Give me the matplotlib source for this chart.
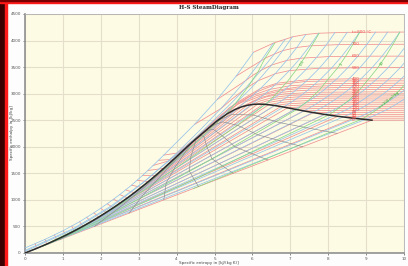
import matplotlib
matplotlib.use("Agg")
import matplotlib.pyplot as plt
from matplotlib.patches import Rectangle

# saturation table, every 20 degC up to the critical point
sat_t = [0.01, 20, 40, 60, 80, 100, 120, 140, 160, 180, 200, 220, 240, 260, 280, 300, 320, 340, 360, 373.95]
sat_sf = [0.0, 0.2965, 0.5724, 0.8313, 1.0756, 1.3072, 1.5279, 1.7392, 1.9426, 2.1392, 2.3305, 2.5177,
          2.7020, 2.8849, 3.0685, 3.2552, 3.4494, 3.6601, 3.9167, 4.4070]
sat_hf = [0.0, 83.9, 167.5, 251.2, 335.0, 419.2, 503.8, 589.2, 675.5, 763.1, 852.3, 943.6,
          1037.6, 1135.0, 1236.9, 1344.8, 1461.8, 1593.8, 1761.0, 2084.3]
sat_sg = [9.1555, 8.6661, 8.2556, 7.9082, 7.6111, 7.3541, 7.1291, 6.9293, 6.7491, 6.5850, 6.4302, 6.2840,
          6.1423, 6.0019, 5.8604, 5.7059, 5.5372, 5.3359, 5.0536, 4.4070]
sat_hg = [2500.9, 2537.4, 2573.5, 2608.8, 2643.0, 2675.6, 2706.0, 2733.5, 2757.4, 2777.2, 2792.0, 2801.1,
          2803.0, 2796.6, 2779.9, 2749.6, 2700.6, 2622.0, 2481.0, 2084.3]

# compressed liquid end of each subcritical isotherm (1000 bar)
liq_s = [0.00, 0.27, 0.53, 0.78, 1.01, 1.23, 1.44, 1.63, 1.82, 2.00, 2.17, 2.34, 2.50, 2.66, 2.81, 2.96, 3.10, 3.24, 3.38]
liq_h = [95, 176, 257, 340, 422, 505, 589, 672, 757, 841, 927, 1013, 1100, 1188, 1277, 1368, 1460, 1553, 1648]

# superheated part of the subcritical isotherms (from the dew line to the right)
iso_s = [
    [9.156, 10.0],
    [8.666, 10.0],
    [8.256, 10.0],
    [7.908, 10.0],
    [7.611, 8.30, 10.0],
    [7.354, 7.695, 8.45, 10.0],
    [7.129, 7.47, 8.10, 10.0],
    [6.929, 7.23, 7.90, 10.0],
    [6.749, 7.05, 7.60, 8.40, 10.0],
    [6.585, 6.90, 7.40, 8.20, 10.0],
    [6.430, 6.695, 7.061, 7.508, 7.835, 8.905, 10.0],
    [6.284, 6.50, 6.86, 7.30, 8.00, 10.0],
    [6.142, 6.35, 6.70, 7.15, 7.90, 10.0],
    [6.002, 6.20, 6.55, 7.00, 7.80, 10.0],
    [5.860, 6.05, 6.40, 6.85, 7.70, 10.0],
    [5.706, 6.210, 6.768, 7.124, 7.461, 8.217, 10.0],
    [5.537, 5.80, 6.33, 6.90, 7.40, 8.20, 10.0],
    [5.336, 5.60, 6.10, 6.60, 7.20, 8.10, 10.0],
    [5.054, 5.40, 5.90, 6.45, 7.00, 8.00, 10.0],
]
iso_h = [
    [2500.9, 2501.5],
    [2537.4, 2538.2],
    [2573.5, 2574.9],
    [2608.8, 2611.1],
    [2643.0, 2648.0, 2649.3],
    [2675.6, 2682.4, 2687.0, 2687.5],
    [2706.0, 2716.6, 2723.5, 2726.0],
    [2733.5, 2748.6, 2760.0, 2764.0],
    [2757.4, 2777.0, 2794.0, 2800.5, 2802.5],
    [2777.2, 2806.0, 2828.0, 2838.0, 2841.0],
    [2792.0, 2828.3, 2855.8, 2870.7, 2875.5, 2879.6, 2880.0],
    [2801.1, 2845.0, 2885.0, 2906.0, 2916.0, 2919.0],
    [2803.0, 2858.0, 2910.0, 2938.0, 2953.0, 2958.0],
    [2796.6, 2862.0, 2930.0, 2968.0, 2990.0, 2997.0],
    [2779.9, 2860.0, 2947.0, 2996.0, 3027.0, 3037.0],
    [2749.6, 2925.7, 3024.2, 3051.6, 3064.6, 3074.5, 3077.0],
    [2700.6, 2840.0, 2987.0, 3075.0, 3101.0, 3114.0, 3117.0],
    [2622.0, 2800.0, 2960.0, 3060.0, 3125.0, 3152.0, 3157.0],
    [2481.0, 2740.0, 2940.0, 3080.0, 3150.0, 3190.0, 3198.0],
]

# supercritical isotherms
sc_t = [380, 400, 500, 600, 700, 800]
sc_s = [
    [3.52, 3.82, 4.05, 4.70, 5.30, 6.11, 6.57, 7.43, 8.50, 10.0],
    [3.66, 4.00, 4.11, 4.476, 5.14, 5.556, 6.214, 6.648, 7.467, 8.545, 10.0],
    [4.47, 5.17, 5.47, 5.796, 6.144, 6.599, 6.978, 7.765, 8.836, 10.0],
    [5.07, 5.82, 6.011, 6.235, 6.507, 6.905, 7.260, 8.031, 9.099, 10.0],
    [5.57, 6.23, 6.375, 6.578, 6.800, 7.172, 7.514, 8.276, 9.342, 10.0],
    [6.03, 6.55, 6.666, 6.867, 7.055, 7.410, 7.746, 8.503, 9.568, 10.0],
]
sc_h = [
    [1745, 1760, 1880, 2280, 2650, 3032, 3160, 3232, 3240, 3241],
    [1843, 1880, 1931, 2153, 2578, 2818, 3098, 3197, 3265, 3279, 3280],
    [2420, 2720, 2903, 3085, 3241, 3375, 3435, 3479, 3489, 3490],
    [2890, 3245, 3346, 3443, 3539, 3626, 3667, 3699, 3706, 3706.5],
    [3330, 3620, 3681, 3745, 3810, 3870, 3900, 3924, 3929, 3930],
    [3780, 3950, 3979, 4024, 4070, 4115, 4138, 4155, 4159, 4160],
]

# isobars in bar
bar_p = [0.01, 0.02, 0.05, 0.1, 0.2, 0.5, 1, 2, 5, 10, 20, 50, 100, 200, 300, 500, 1000]
bar_s = [
    [0.106, 8.975, 9.237, 9.512, 9.752, 9.968, 10.164],
    [0.261, 8.723, 8.917, 9.192, 9.432, 9.648, 9.845, 10.026],
    [0.476, 8.394, 8.494, 8.769, 9.009, 9.225, 9.421, 9.603, 9.929, 10.22],
    [0.649, 8.149, 8.174, 8.449, 8.689, 8.905, 9.102, 9.283, 9.609, 9.900, 10.163],
    [0.832, 7.907, 8.127, 8.368, 8.584, 8.781, 8.962, 9.289, 9.580, 9.843, 10.086],
    [1.091, 7.593, 7.695, 7.941, 8.159, 8.356, 8.538, 8.866, 9.157, 9.420, 9.663, 9.889],
    [1.303, 7.359, 7.614, 7.835, 8.034, 8.217, 8.545, 8.836, 9.099, 9.342, 9.568],
    [1.530, 7.127, 7.280, 7.508, 7.710, 7.894, 8.224, 8.516, 8.780, 9.023, 9.249],
    [1.860, 6.821, 7.061, 7.272, 7.461, 7.796, 8.091, 8.357, 8.601, 8.827],
    [2.138, 6.585, 6.695, 6.927, 7.124, 7.467, 7.765, 8.031, 8.276, 8.503],
    [2.447, 6.339, 6.547, 6.768, 7.128, 7.432, 7.702, 7.949, 8.177],
    [2.921, 5.973, 6.210, 6.451, 6.648, 6.978, 7.260, 7.514, 7.746],
    [3.360, 5.616, 5.946, 6.214, 6.599, 6.905, 7.172, 7.410],
    [4.015, 4.927, 5.30, 5.556, 5.905, 6.144, 6.507, 6.800, 7.055],
    [0.0, 1.29, 2.28, 3.13, 3.60, 4.05, 4.476, 5.442, 5.796, 6.235, 6.578, 6.867],
    [0.0, 1.28, 2.26, 3.10, 3.50, 3.82, 4.00, 4.55, 5.17, 5.82, 6.23, 6.55],
    [0.00, 0.53, 1.01, 1.44, 1.82, 2.17, 2.50, 2.81, 3.10, 3.38, 3.66, 4.05, 4.47, 5.07, 5.57, 6.03],
]
bar_h = [
    [29.3, 2513.7, 2594, 2688, 2783, 2880, 2978],
    [73.4, 2532.9, 2593, 2688, 2783, 2880, 2978, 3077],
    [137.8, 2560.7, 2592.5, 2688, 2783, 2880, 2978, 3077, 3280, 3490],
    [191.8, 2583.9, 2592, 2687.5, 2783, 2879.6, 2977.5, 3076.7, 3280, 3489.7, 3706.3],
    [251.4, 2609.9, 2686.5, 2782, 2879, 2977, 3076, 3280, 3489.5, 3706, 3930],
    [340.5, 2645.9, 2682.4, 2780.2, 2877.7, 2976.2, 3075.8, 3279.3, 3489.3, 3706, 3929.6, 4159.5],
    [417.4, 2675.0, 2776.6, 2875.5, 2974.5, 3074.5, 3278.6, 3488.7, 3705.6, 3929.4, 4159.2],
    [504.7, 2706.3, 2769.1, 2870.7, 2971.2, 3072.1, 3277.0, 3487.7, 3704.8, 3928.8, 4158.7],
    [640.1, 2748.1, 2855.8, 2961.0, 3064.6, 3272.4, 3484.5, 3702.5, 3927.0, 4157.4],
    [762.5, 2777.1, 2828.3, 2943.1, 3051.6, 3264.5, 3479.1, 3698.6, 3924.1, 4155.2],
    [908.5, 2798.3, 2903.3, 3024.2, 3248.4, 3468.3, 3690.7, 3918.2, 4150.7],
    [1154.5, 2794.2, 2925.7, 3069.3, 3196.7, 3434.7, 3666.9, 3900.3, 4137.7],
    [1407.9, 2725.5, 2924.0, 3097.5, 3375.1, 3625.8, 3870.0, 4114.5],
    [1827.2, 2411.4, 2650, 2818.1, 3061.7, 3241.2, 3539.0, 3810.0, 4069.8],
    [30, 447, 868, 1330, 1620, 1880, 2153, 2821, 3085, 3443, 3745, 4024],
    [48, 462, 880, 1320, 1560, 1760, 1880, 2265, 2720, 3245, 3620, 3950],
    [95, 257, 422, 589, 757, 927, 1100, 1277, 1460, 1648, 1843, 2120, 2420, 2890, 3330, 3780],
]

# isochores in m3/kg
vol_v = [0.01, 0.1, 1, 10, 100]
vol_s = [
    [0.70, 1.34, 1.955, 2.618, 3.382, 4.294, 5.29, 5.556, 5.88, 6.15, 6.33, 6.59],
    [0.73, 1.669, 3.101, 5.545, 6.339, 6.49, 6.64, 6.925, 7.16, 7.37, 7.57, 7.76],
    [0.44, 0.96, 1.80, 2.99, 4.923, 7.17, 7.47, 7.77, 8.0, 8.25, 8.46, 8.65, 8.83],
    [0.444, 1.745, 4.51, 8.01, 8.20, 8.55, 8.835, 9.07, 9.31, 9.52, 9.71, 9.89],
    [4.44, 6.16, 8.38, 8.89, 9.05, 9.26, 9.61, 9.90, 10.15],
]
vol_h = [
    [210, 431, 680, 988, 1394, 1940, 2600, 2818, 3125, 3413, 3665, 3950],
    [229, 554, 1165, 2373, 2798, 2890, 3009, 3231, 3450, 3674, 3905, 4137],
    [124, 290, 561, 1011, 1768, 2701, 2869, 3071, 3275, 3487, 3704, 3927, 4157],
    [121, 508, 1399, 2598, 2687, 2879, 3078, 3279, 3490, 3706, 3930, 4160],
    [1213, 1714, 2373, 2521, 2592, 2688, 2880, 3077, 3280],
]

# lines of constant steam quality
qual_x = [0.1, 0.2, 0.3, 0.4, 0.5, 0.6, 0.7, 0.8, 0.9]
qual_s = [
    [0.916, 1.912, 2.740, 3.500, 3.828, 4.030, 4.407],
    [1.831, 2.517, 3.150, 3.745, 3.995, 4.144, 4.407],
    [2.747, 3.121, 3.560, 3.990, 4.163, 4.258, 4.407],
    [3.662, 3.726, 3.970, 4.236, 4.330, 4.372, 4.407],
    [4.578, 4.331, 4.380, 4.481, 4.498, 4.485, 4.407],
    [5.493, 4.936, 4.790, 4.726, 4.666, 4.599, 4.407],
    [6.409, 5.540, 5.200, 4.971, 4.833, 4.713, 4.407],
    [7.324, 6.145, 5.610, 5.216, 5.001, 4.826, 4.407],
    [8.240, 6.750, 6.020, 5.461, 5.168, 4.940, 4.407],
]
qual_h = [
    [250, 645, 1046, 1485, 1697, 1833, 2084],
    [500, 870, 1240, 1626, 1799, 1905, 2084],
    [750, 1096, 1434, 1766, 1902, 1977, 2084],
    [1000, 1322, 1628, 1907, 2005, 2049, 2084],
    [1250, 1547, 1822, 2047, 2108, 2121, 2084],
    [1501, 1773, 2016, 2188, 2211, 2193, 2084],
    [1751, 1999, 2210, 2328, 2313, 2265, 2084],
    [2001, 2224, 2404, 2469, 2416, 2337, 2084],
    [2251, 2450, 2598, 2609, 2519, 2409, 2084],
]

RED = "#f29090"
BLUE = "#96c4ea"
GREEN = "#88da88"
GRAY = "#8c8c8c"

fig = plt.figure(figsize=(4.08, 2.66), dpi=100, facecolor="#fdfdfd")
ax = fig.add_axes([25 / 408, 13 / 266, 379 / 408, 239 / 266])
ax.set_facecolor("#fdfbe4")

# frame of the window
fig.patches.append(Rectangle((0, 0), 5 / 408, 1, transform=fig.transFigure, color="#3a0000", zorder=0))
fig.patches.append(Rectangle((5 / 408, 0), 2 / 408, 1, transform=fig.transFigure, color="#ff1a1a", zorder=0))
fig.patches.append(Rectangle((0, 1 - 3 / 266), 1, 3 / 266, transform=fig.transFigure, color="#ff1a1a", zorder=0))
fig.patches.append(Rectangle((0, 1 - 1 / 266), 1, 1 / 266, transform=fig.transFigure, color="#7a0000", zorder=0))

lw = 0.55
# isotherms: compressed liquid + wet region + superheated
for i in range(len(iso_s)):
    xs = [liq_s[i], sat_sf[i]] + iso_s[i]
    ys = [liq_h[i], sat_hf[i]] + iso_h[i]
    ax.plot(xs, ys, color=RED, lw=lw, zorder=2)
for i in range(len(sc_t)):
    ax.plot(sc_s[i], sc_h[i], color=RED, lw=lw, zorder=2)

for i in range(len(bar_p)):
    ax.plot(bar_s[i], bar_h[i], color=BLUE, lw=lw, zorder=3)

for i in range(len(vol_v)):
    ax.plot(vol_s[i], vol_h[i], color=GREEN, lw=lw, zorder=3)

for i in range(len(qual_x)):
    ax.plot(qual_s[i], qual_h[i], color=GRAY, lw=0.45, zorder=4)

# saturation curve
ax.plot(sat_sf + sat_sg[::-1], sat_hf + sat_hg[::-1], color="#2b2b2b", lw=1.1, zorder=5)

# isotherm labels
lab_s = 8.63
for i in range(len(iso_s)):
    ax.text(lab_s, iso_h[i][-1], f"{sat_t[i]:.0f}", color="#f05050", fontsize=3, va="center", zorder=6)
for i in range(len(sc_t)):
    txt = f"t={sc_t[i]} °C" if sc_t[i] == 800 else f"{sc_t[i]}"
    ax.text(lab_s, sc_h[i][-1], txt, color="#f05050", fontsize=3, va="center", zorder=6)

# isochore labels
for i, (sv, hv) in enumerate([(7.31, 3578), (8.34, 3559), (9.42, 3578)]):
    ax.text(sv, hv, f"{vol_v[i + 1]:g}", color="#3cae3c", fontsize=2.8, rotation=60,
            ha="center", va="center", zorder=6)
ax.text(9.6, 2880, "v=100 m³/kg", color="#3cae3c", fontsize=2.6, rotation=38,
        ha="center", va="center", zorder=6)

ax.set_xlim(0, 10)
ax.set_ylim(0, 4500)
ax.set_xticks(range(0, 11))
ax.set_yticks(range(0, 4501, 500))
ax.grid(True, color="#e4dfca", lw=0.8, zorder=0)
ax.set_axisbelow(True)
ax.tick_params(labelsize=3, length=1.5, width=0.5, colors="#555555", pad=1.5)
for side in ["top", "right"]:
    ax.spines[side].set_color("#b0b0b0")
    ax.spines[side].set_linewidth(0.6)
for side in ["left", "bottom"]:
    ax.spines[side].set_color("#909090")
    ax.spines[side].set_linewidth(1.2)

fig.text(209 / 408, 1 - 8 / 266, "H-S SteamDiagram", ha="center", va="center", fontsize=4,
         fontweight="bold", family="DejaVu Serif", color="#222222")
fig.text(209 / 408, 1 - 263 / 266, "Specific entropy in [kJ/(kg K)]", ha="center", va="center",
         fontsize=3, color="#444444")
fig.text(12.5 / 408, 1 - 133 / 266, "Specific enthalpy in [kJ/kg]", ha="center", va="center",
         fontsize=3, rotation=90, color="#444444")

fig.savefig("out.png", dpi=100, facecolor=fig.get_facecolor())
